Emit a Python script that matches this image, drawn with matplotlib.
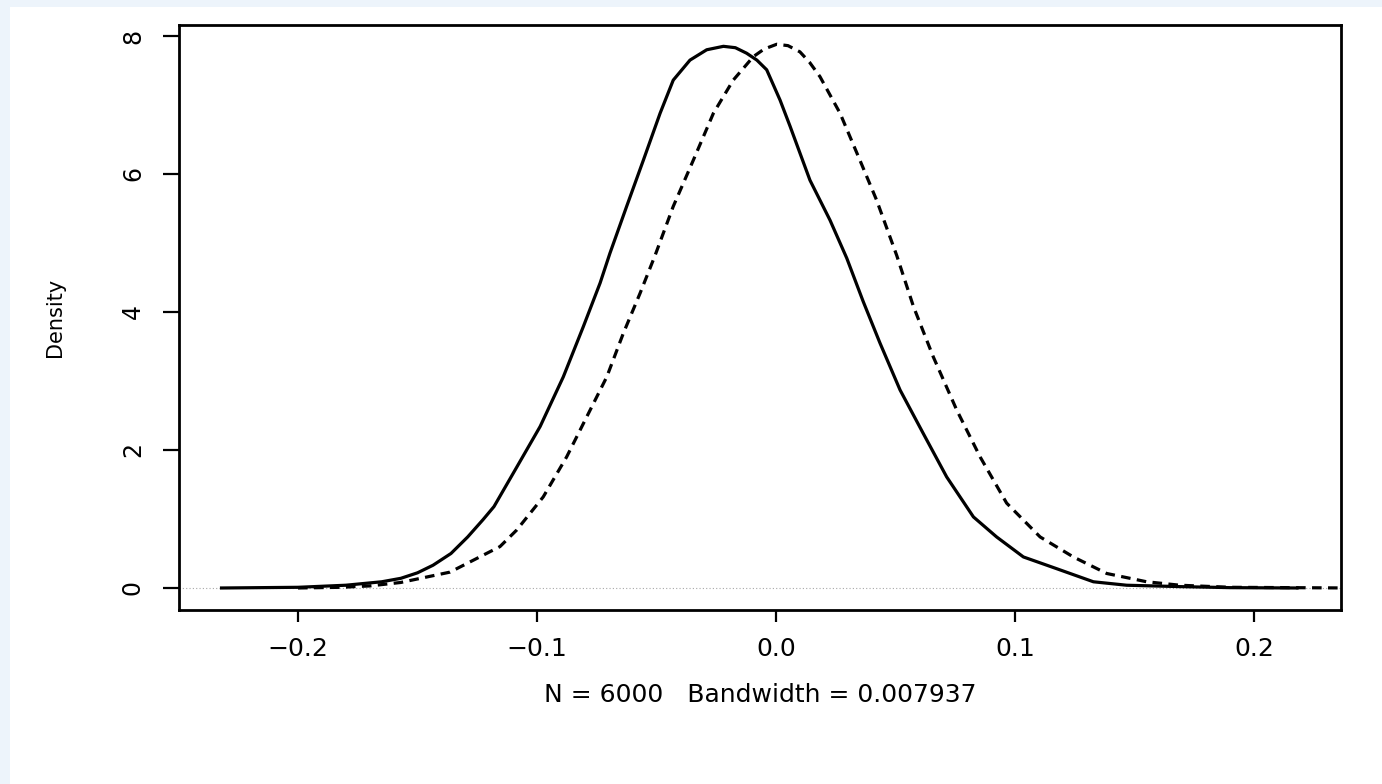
import matplotlib
matplotlib.use("Agg")
import matplotlib.pyplot as plt
from matplotlib.patches import Rectangle

# values
solid_x = [-0.232, -0.200, -0.180, -0.165, -0.157, -0.150, -0.1435, -0.136, -0.129,
           -0.1226, -0.118, -0.1085, -0.0987, -0.089, -0.0806, -0.0736, -0.0695, -0.0625,
           -0.0555, -0.0485, -0.043, -0.036, -0.029, -0.022, -0.017, -0.0123, -0.008,
           -0.0039, 0.0017, 0.0059, 0.0142, 0.0226, 0.0296, 0.0365, 0.0435, 0.0519,
           0.0616, 0.0714, 0.0826, 0.0923, 0.1035, 0.1174, 0.1328, 0.1467, 0.169,
           0.190, 0.218]
solid_y = [0.0, 0.01, 0.04, 0.09, 0.14, 0.22, 0.33, 0.50, 0.74,
           0.99, 1.18, 1.75, 2.34, 3.06, 3.79, 4.42, 4.85, 5.53,
           6.20, 6.88, 7.36, 7.65, 7.80, 7.85, 7.83, 7.75, 7.65,
           7.51, 7.07, 6.69, 5.91, 5.33, 4.78, 4.15, 3.55, 2.87,
           2.24, 1.61, 1.03, 0.74, 0.45, 0.28, 0.09, 0.04, 0.02,
           0.005, 0.0]

dash_x = [-0.200, -0.182, -0.170, -0.157, -0.1364, -0.1155, -0.1085, -0.0974, -0.0876,
          -0.0792, -0.0708, -0.0639, -0.0569, -0.0506, -0.043, -0.0346, -0.0262,
          -0.0179, -0.0095, -0.005, 0.0003, 0.005, 0.0100, 0.014, 0.0184, 0.0268,
          0.0351, 0.0421, 0.0505, 0.0575, 0.0658, 0.0756, 0.0854, 0.0965, 0.1105,
          0.1244, 0.1384, 0.1551, 0.169, 0.190, 0.240]
dash_y = [0.0, 0.01, 0.03, 0.08, 0.23, 0.60, 0.84, 1.32, 1.90,
          2.48, 3.06, 3.69, 4.27, 4.82, 5.53, 6.20, 6.88,
          7.36, 7.70, 7.81, 7.88, 7.86, 7.77, 7.62, 7.41, 6.88,
          6.20, 5.62, 4.82, 4.08, 3.35, 2.58, 1.90, 1.23, 0.74,
          0.45, 0.21, 0.09, 0.04, 0.01, 0.0]

xticks = [-0.2, -0.1, 0.0, 0.1, 0.2]
yticks = [0, 2, 4, 6, 8]
xlabel = "N = 6000   Bandwidth = 0.007937"

W, H = 1382, 784
fig = plt.figure(figsize=(W / 100, H / 100), dpi=100)
fig.patch.set_facecolor("#edf4fb")
fig.patches.append(Rectangle((10 / W, 0), 1, 1 - 7 / H, transform=fig.transFigure,
                             facecolor="white", edgecolor="none", zorder=-5))

ax = fig.add_axes([179 / W, 1 - 610 / H, (1341 - 179) / W, (610 - 25) / H])
ax.set_facecolor("white")

ax.axhline(0, color="#a8a8a8", lw=0.8, ls=(0, (1, 2)))
ax.plot(solid_x, solid_y, color="black", lw=2.3, solid_joinstyle="round")
ax.plot(dash_x, dash_y, color="black", lw=2.3, dashes=(3, 2), dash_joinstyle="round")

ax.set_xlim(-0.2498, 0.2364)
ax.set_ylim(-0.319, 8.159)
ax.set_xticks(xticks)
ax.set_xticklabels([("%.1f" % v).replace("-", "\u2212") for v in xticks])
ax.set_yticks(yticks)

for s in ax.spines.values():
    s.set_linewidth(2.0)
ax.tick_params(axis="x", length=8.6, width=1.6, labelsize=18, pad=11)
ax.tick_params(axis="y", length=11.5, width=1.6, labelsize=17, pad=13, labelrotation=90)
for lab in ax.get_yticklabels():
    lab.set_va("center")

ax.set_xlabel(xlabel, fontsize=18, labelpad=16)
ax.set_ylabel("Density", fontsize=15, labelpad=40)

fig.savefig("out.png", dpi=100)
